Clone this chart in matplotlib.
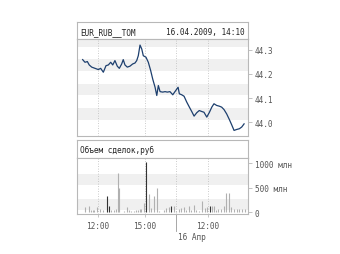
import matplotlib
matplotlib.use("Agg")
import matplotlib.pyplot as plt

# Trading-hour axis: 15 Apr 10:40..17:00 -> 10.66..17, 16 Apr 10:00.. -> 17..
price_t = [11.02, 11.17, 11.32, 11.44, 11.60, 11.81, 12.02, 12.17, 12.34, 12.51,
           12.66, 12.81, 12.94, 13.08, 13.23, 13.36, 13.51, 13.61, 13.72, 13.87,
           14.04, 14.21, 14.36, 14.47, 14.57, 14.68, 14.79, 14.89, 15.06, 15.21,
           15.36, 15.49, 15.64, 15.75, 15.85, 15.96, 16.13, 16.28, 16.42, 16.59,
           16.77, 16.91, 17.11, 17.19, 17.34, 17.49, 17.66, 17.83, 17.98, 18.13,
           18.30, 18.46, 18.62, 18.76, 18.94, 19.11, 19.26, 19.40, 19.57, 19.74,
           19.89, 20.04, 20.21, 20.38, 20.53, 20.68, 20.85, 21.02, 21.17, 21.32]
price_v = [44.259, 44.248, 44.251, 44.237, 44.228, 44.223, 44.218, 44.223, 44.207, 44.234,
           44.237, 44.248, 44.237, 44.255, 44.232, 44.223, 44.241, 44.259, 44.237, 44.228,
           44.232, 44.241, 44.245, 44.255, 44.275, 44.319, 44.303, 44.275, 44.269, 44.248,
           44.214, 44.179, 44.145, 44.111, 44.152, 44.127, 44.125, 44.127, 44.125, 44.127,
           44.114, 44.127, 44.145, 44.118, 44.114, 44.108, 44.084, 44.063, 44.045, 44.026,
           44.040, 44.049, 44.045, 44.042, 44.022, 44.042, 44.063, 44.077, 44.070, 44.067,
           44.063, 44.053, 44.035, 44.012, 43.990, 43.967, 43.971, 43.974, 43.981, 43.994]

vol_t = [11.19, 11.41, 11.55, 11.68, 11.76, 11.94, 12.15, 12.32, 12.57, 12.72,
         12.85, 13.00, 13.13, 13.26, 13.36, 13.64, 13.85, 13.96, 14.11, 14.28,
         14.41, 14.53, 14.66, 14.76, 14.92, 15.06, 15.24, 15.38, 15.59, 15.77,
         15.89, 16.19, 16.34, 16.51, 16.68, 16.83, 16.98, 17.19, 17.32, 17.47,
         17.62, 17.79, 17.95, 18.11, 18.27, 18.43, 18.64, 18.81, 18.96, 19.13,
         19.28, 19.39, 19.53, 19.66, 19.83, 20.02, 20.17, 20.34, 20.51, 20.66,
         20.87, 21.02, 21.19, 21.36]
vol_v = [100, 120, 50, 50, 50, 100, 60, 40, 330, 130,
         40, 40, 70, 800, 500, 30, 100, 50, 30, 30,
         50, 50, 60, 60, 180, 1020, 380, 80, 330, 490,
         30, 40, 80, 100, 120, 120, 30, 60, 80, 100,
         50, 120, 40, 140, 40, 30, 230, 80, 100, 130,
         130, 120, 50, 70, 60, 120, 400, 400, 100, 60,
         60, 60, 60, 60]
dark_idx = [8, 9, 25, 34, 49]

xtick_pos = [12, 15, 19]
xtick_lbl = ["12:00", "15:00", "12:00"]
day_sep = 17
day_lbl = "16 Апр"
price_ticks = [44.0, 44.1, 44.2, 44.3]
vol_ticks = [0, 500, 1000]
vol_lbls = ["0", "500 млн", "1000 млн"]

W, H = 340, 255
fig = plt.figure(figsize=(W / 100, H / 100), dpi=100)
fig.patch.set_facecolor("white")

frame_c = "#b8b8b8"
band_c = "#f0f0f0"
txt_c = "#555555"
mono = "DejaVu Sans Mono"

def fx(px):
    return px / W

def fy(py):
    return 1 - py / H

L, R = 77, 248
xlim = (10.66, 21.57)

def header(y0, y1, left, right=None):
    ax = fig.add_axes([fx(L), fy(y1), fx(R - L), (y1 - y0) / H])
    ax.set_xticks([]); ax.set_yticks([])
    for s in ax.spines.values():
        s.set_color(frame_c); s.set_linewidth(0.8)
    ax.text(0.02, 0.45, left, transform=ax.transAxes, va="center", ha="left",
            fontsize=5.6, family=mono, color="#222222")
    if right:
        ax.text(0.98, 0.45, right, transform=ax.transAxes, va="center", ha="right",
                fontsize=5.6, family=mono, color="#222222")
    return ax

def style_data(ax):
    ax.set_xlim(*xlim)
    for s in ax.spines.values():
        s.set_color(frame_c); s.set_linewidth(0.8)
    ax.yaxis.tick_right()
    ax.tick_params(axis="y", direction="out", length=3, width=0.6, colors=frame_c,
                   labelcolor=txt_c, labelsize=5.6, pad=2)
    for lbl in ax.get_yticklabels():
        lbl.set_family(mono)
    for xp in xtick_pos + [day_sep]:
        ax.axvline(xp, color="#bbbbbb", lw=0.6, ls=(0, (1, 2)), zorder=1)

# price panel
header(23, 40, "EUR_RUB__TOM", "16.04.2009, 14:10")
ax1 = fig.add_axes([fx(L), fy(137), fx(R - L), 97 / H])
ax1.set_ylim(43.944, 44.344)
for v in price_ticks:
    ax1.axhspan(v + 0.012, v + 0.06, color=band_c, lw=0, zorder=0)
ax1.plot(price_t, price_v, color="#1d3f6e", lw=0.9, zorder=3)
ax1.set_xticks([])
ax1.set_yticks(price_ticks)
ax1.set_yticklabels([f"{v:.1f}" for v in price_ticks])
style_data(ax1)

# volume panel
header(141, 159, "Объем сделок,руб")
ax2 = fig.add_axes([fx(L), fy(215), fx(R - L), 56 / H])
ax2.set_ylim(-34, 1106)
for v in [0, 500]:
    ax2.axhspan(v + 50, v + 275, color=band_c, lw=0, zorder=0)
cols = ["#333333" if i in dark_idx else "#b0b0b0" for i in range(len(vol_t))]
ax2.vlines(vol_t, 0, vol_v, colors=cols, lw=0.8, zorder=3)
ax2.set_yticks(vol_ticks)
ax2.set_yticklabels(vol_lbls)
ax2.set_xticks(xtick_pos)
ax2.set_xticklabels(xtick_lbl)
ax2.tick_params(axis="x", direction="out", length=2, width=0.6, colors="#bbbbbb",
                labelcolor=txt_c, labelsize=5.6, pad=3)
for lbl in ax2.get_xticklabels():
    lbl.set_family(mono)
style_data(ax2)
ax2.plot([day_sep, day_sep], [0, -0.3], transform=ax2.get_xaxis_transform(),
         color="#999999", lw=0.6, clip_on=False)
ax2.text(day_sep + 0.08, -0.33, day_lbl, transform=ax2.get_xaxis_transform(),
         ha="left", va="top", fontsize=5.6, family=mono, color=txt_c)

fig.savefig("out.png", dpi=100, facecolor="white")
